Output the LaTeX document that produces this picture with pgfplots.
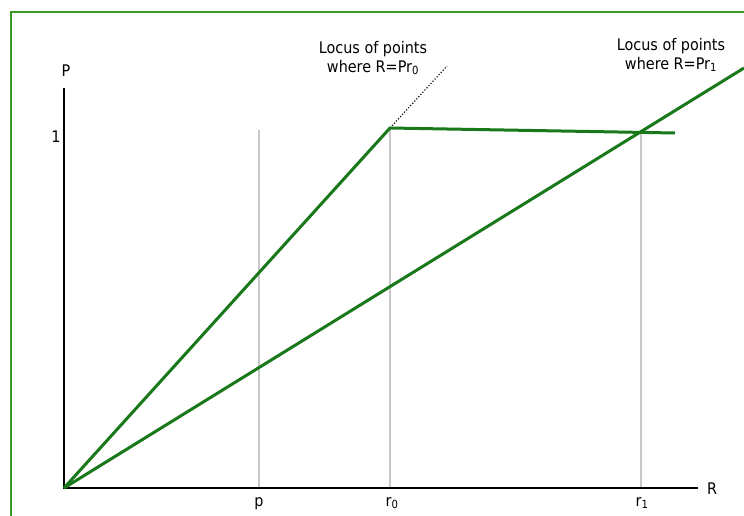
\documentclass[border=0pt]{standalone}
\usepackage{pgfplots}
\pgfplotsset{compat=1.18}
\usepackage{fontspec}
\setmainfont{DejaVu Sans Condensed}
\definecolor{lgreen}{RGB}{25,120,25}
\definecolor{bgreen}{RGB}{60,150,40}
\definecolor{gline}{RGB}{200,200,200}
\begin{document}
\begin{tikzpicture}[lbl/.style={font=\fontsize{16}{19}\selectfont}]
\begin{axis}[
  hide axis, x=1pt, y=1pt,
  xmin=0, xmax=744, ymin=0, ymax=515,
  clip=false
]
\coordinate (ll) at (axis cs:0,0);
\coordinate (ur) at (axis cs:744,515);
% frame
\addplot[bgreen, line width=1.5pt, forget plot] coordinates {(11,-2) (11,503) (746,503)};
% gray guide lines
\addplot[gline, line width=1.3pt] coordinates {(259,27) (259,385)};
\addplot[gline, line width=1.3pt] coordinates {(390,27) (390,387)};
\addplot[gline, line width=1.3pt] coordinates {(641,27) (641,385)};
% axes
\addplot[black, line width=1.6pt] coordinates {(64,427) (64,27) (698,27)};
% dotted locus
\addplot[black, line width=1.1pt, dash pattern=on 1.2pt off 1.8pt] coordinates {(390,387) (447,449)};
% green lines
\addplot[lgreen, line width=3pt, line join=round] coordinates {(64,27) (390,387) (675,382)};
\addplot[lgreen, line width=3pt] coordinates {(64,27) (744,447)};
% labels
\node[lbl, anchor=base] at (axis cs:66,438) {P};
\node[lbl, anchor=base] at (axis cs:56,372) {1};
\node[lbl, anchor=base] at (axis cs:712,21) {R};
\node[lbl, anchor=base] at (axis cs:259,9) {p};
\node[lbl, anchor=base] at (axis cs:392,9) {r\textsubscript{0}};
\node[lbl, anchor=base] at (axis cs:642,9) {r\textsubscript{1}};
\node[lbl, align=center] at (axis cs:373,457) {Locus of points\\where R=Pr\textsubscript{0}};
\node[lbl, align=center] at (axis cs:671,460) {Locus of points\\where R=Pr\textsubscript{1}};
\end{axis}
\pgfresetboundingbox
\useasboundingbox (ll) rectangle (ur);
\end{tikzpicture}
\end{document}
